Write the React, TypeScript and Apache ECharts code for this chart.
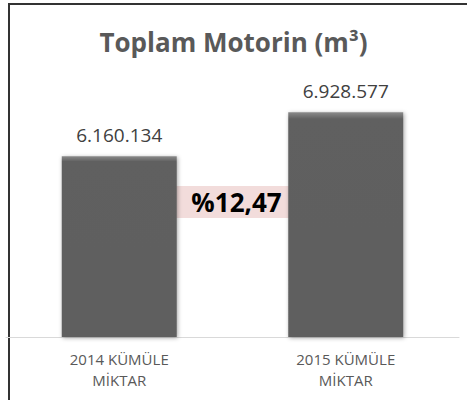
import React, { useEffect, useRef } from "react";
import * as echarts from "echarts";

const titleText = "Toplam Motorin (m³)";
const categories = ["2014 KÜMÜLE\nMİKTAR", "2015 KÜMÜLE\nMİKTAR"];
const values = [6160134, 6928577];
const changeLabel = "%12,47";

const fmt = (v: number) => v.toString().replace(/\B(?=(\d{3})+(?!\d))/g, ".");

export default function App() {
  const ref = useRef<HTMLDivElement>(null);
  useEffect(() => {
    if (!ref.current) return;
    const chart = echarts.init(ref.current, null, { renderer: "svg" });
    const font = "'Open Sans', sans-serif";
    chart.setOption({
      animation: false,
      backgroundColor: "#ffffff",
      title: {
        text: titleText,
        left: "center",
        top: 24,
        textStyle: { fontFamily: font, fontSize: 26, fontWeight: "bold", color: "#595959" },
      },
      grid: { left: 6, right: 8, top: 51, bottom: 63 },
      xAxis: {
        type: "category",
        data: categories,
        axisLine: { lineStyle: { color: "#d9d9d9", width: 1 } },
        axisTick: { show: false },
        axisLabel: {
          fontFamily: font,
          fontSize: 15,
          color: "#595959",
          lineHeight: 21,
          margin: 11,
        },
      },
      yAxis: {
        type: "value",
        min: 3000000,
        max: 8000000,
        show: false,
        splitLine: { show: false },
      },
      series: [
        {
          type: "bar",
          data: values,
          barWidth: 115,
          itemStyle: {
            color: new echarts.graphic.LinearGradient(0, 0, 0, 1, [
              { offset: 0, color: "#8a8a8a" },
              { offset: 0.03, color: "#606060" },
              { offset: 1, color: "#5e5e5e" },
            ]),
            shadowColor: "rgba(0,0,0,0.35)",
            shadowBlur: 4,
            shadowOffsetX: 1,
            shadowOffsetY: 1,
          },
          label: {
            show: true,
            position: "top",
            distance: 12,
            formatter: (p: any) => fmt(p.value),
            fontFamily: font,
            fontSize: 19,
            color: "#404040",
          },
        },
      ],
      graphic: [
        { type: "line", shape: { x1: 9, y1: 3, x2: 9, y2: 400 }, style: { stroke: "#333333", lineWidth: 2 } },
        { type: "line", shape: { x1: 8, y1: 4, x2: 467, y2: 4 }, style: { stroke: "#333333", lineWidth: 2 } },
        {
          type: "rect",
          shape: { x: 176, y: 186, width: 121, height: 32 },
          style: { fill: "#f2dcdb" },
        },
        {
          type: "text",
          x: 236.5,
          y: 202,
          style: {
            text: changeLabel,
            fontFamily: font,
            fontSize: 26,
            fontWeight: "bold",
            fill: "#000000",
            align: "center",
            verticalAlign: "middle",
          },
        },
      ],
    });
    return () => chart.dispose();
  }, []);
  return <div ref={ref} style={{ position: "fixed", left: 0, top: 0, width: 467, height: 400 }} />;
}
